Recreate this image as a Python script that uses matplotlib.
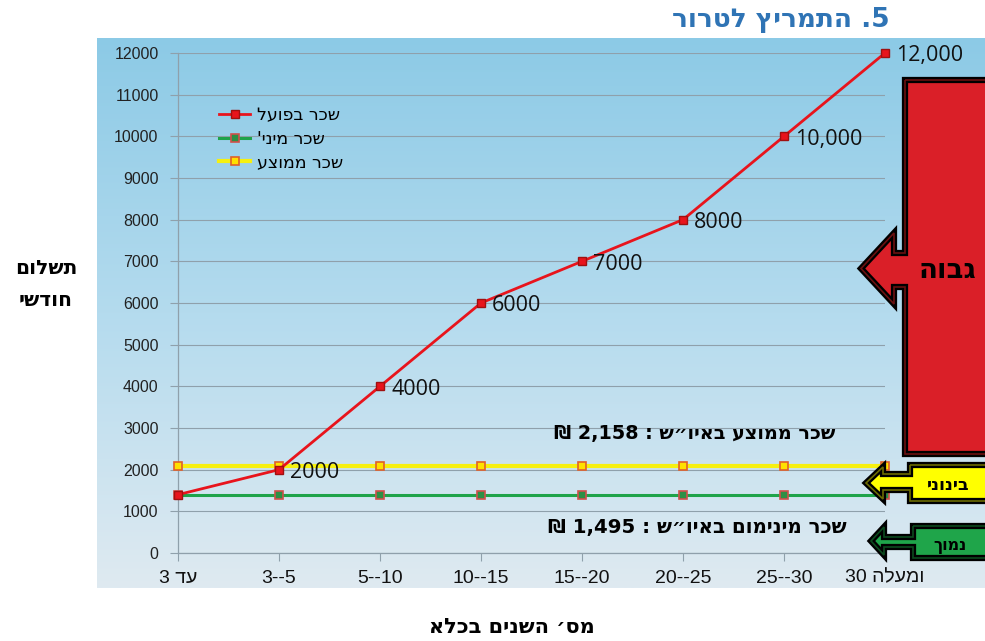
import re
import numpy as np
import matplotlib
matplotlib.use("Agg")
import matplotlib.pyplot as plt
from matplotlib.patches import Polygon
from matplotlib.colors import LinearSegmentedColormap

# ---------------- data ----------------
categories = ["עד 3", "3--5", "5--10", "10--15", "15--20", "20--25", "25--30", "30 ומעלה"]
actual_pay = [1400, 2000, 4000, 6000, 7000, 8000, 10000, 12000]
minimum_pay = [1400, 1400, 1400, 1400, 1400, 1400, 1400, 1400]
average_pay = [2100, 2100, 2100, 2100, 2100, 2100, 2100, 2100]
point_labels = ["", "2000", "4000", "6000", "7000", "8000", "10,000", "12,000"]
series_names = ["שכר בפועל", "שכר מיני'", "שכר ממוצע"]
y_ticks = [0, 1000, 2000, 3000, 4000, 5000, 6000, 7000, 8000, 9000, 10000, 11000, 12000]

title = "5. התמריץ לטרור"
y_label_lines = ["תשלום", "חודשי"]
x_label = "מס׳ השנים בכלא"
avg_note = "שכר ממוצע באיו״ש : 2,158 ₪"
min_note = "שכר מינימום באיו״ש : 1,495 ₪"
level_labels = ["גבוה", "בינוני", "נמוך"]


def rtl(s):
    """logical RTL Hebrew -> visual left-to-right order"""
    r = s[::-1]
    return re.sub(r"[0-9][0-9,.]*", lambda m: m.group(0)[::-1], r)


def disp(s):
    if s[:1].isdigit():
        return re.sub(r"[\u0590-\u05FF]+", lambda m: m.group(0)[::-1], s)
    return rtl(s)


W, H = 985, 641
fig = plt.figure(figsize=(W / 100, H / 100), dpi=100)
fig.patch.set_facecolor("white")

# gradient background panel
bg = fig.add_axes([97 / W, 1 - 588 / H, (W - 97) / W, (588 - 38) / H], zorder=0)
cmap = LinearSegmentedColormap.from_list("sky", ["#8ccae6", "#b4dbee", "#dfeaf1"])
bg.imshow(np.linspace(0, 1, 256).reshape(-1, 1), aspect="auto", cmap=cmap,
          extent=[0, 1, 0, 1])
bg.set_axis_off()

# main axes
ax = fig.add_axes([178 / W, 1 - 553 / H, (885 - 178) / W, (553 - 53) / H], zorder=2)
ax.set_facecolor("none")
x = np.arange(len(categories))

grid_c = "#8fa0ab"
ax.set_xlim(0, len(categories) - 1)
ax.set_ylim(0, 12000)
ax.set_yticks(y_ticks)
ax.set_yticklabels([str(v) for v in y_ticks], fontsize=11.5, family="Liberation Sans",
                   color="#222222")
ax.set_xticks(x)
ax.set_xticklabels([disp(c) for c in categories], fontsize=14, family="Liberation Sans",
                   color="#111111")
ax.yaxis.grid(True, color=grid_c, lw=0.8)
ax.set_axisbelow(True)
for s in ["top", "right"]:
    ax.spines[s].set_visible(False)
for s in ["left", "bottom"]:
    ax.spines[s].set_color(grid_c)
    ax.spines[s].set_linewidth(0.9)
ax.tick_params(axis="y", length=6, color=grid_c, pad=8)
ax.tick_params(axis="x", length=6, color=grid_c, pad=6)

l_avg, = ax.plot(x, average_pay, color="#f6f010", lw=3.0, marker="s", ms=6,
                 mfc="#ffe000", mec="#e0602a", mew=1.2, clip_on=False, zorder=3,
                 label=rtl(series_names[2]))
l_min, = ax.plot(x, minimum_pay, color="#1fa34a", lw=2.2, marker="s", ms=6,
                 mfc="#2d8f45", mec="#d0504a", mew=1.2, clip_on=False, zorder=3,
                 label=rtl(series_names[1]))
l_act, = ax.plot(x, actual_pay, color="#e8141c", lw=2.0, marker="s", ms=5.5,
                 mfc="#e8141c", mec="#a01010", mew=1.0, clip_on=False, zorder=4,
                 label=rtl(series_names[0]))

for xi, yi, lab in zip(x, actual_pay, point_labels):
    if lab:
        ax.annotate(lab, (xi, yi), xytext=(8, -2), textcoords="offset points",
                    ha="left", va="center", fontsize=15.5, family="Open Sans",
                    color="#111111", zorder=5, annotation_clip=False)

leg = ax.legend(handles=[l_act, l_min, l_avg], loc="upper left",
                bbox_to_anchor=(0.058, 0.893), frameon=False,
                handlelength=1.8, handletextpad=0.4, labelspacing=0.3,
                borderaxespad=0, borderpad=0,
                prop={"family": "DejaVu Sans", "size": 12.5})

# overlay in pixel coordinates for decorations
ov = fig.add_axes([0, 0, 1, 1], zorder=5)
ov.set_xlim(0, W)
ov.set_ylim(H, 0)
ov.set_axis_off()
ov.patch.set_alpha(0)


def callout(box_l, box_t, box_b, head_back, head_t, head_b, stem_t, stem_b, tip_x,
            fill, inner):
    tip_y = (head_t + head_b) / 2
    pts = [(box_l, box_t), (box_l, stem_t), (head_back, stem_t), (head_back, head_t),
           (tip_x, tip_y), (head_back, head_b), (head_back, stem_b), (box_l, stem_b),
           (box_l, box_b), (W + 20, box_b), (W + 20, box_t)]
    ov.add_patch(Polygon(pts, closed=True, fc=fill, ec="black", lw=4.5, joinstyle="miter"))
    ov.add_patch(Polygon(pts, closed=True, fc="none", ec=inner, lw=1.2, joinstyle="miter"))


callout(905, 80, 454, 894, 233, 304, 253, 287, 861, "#da1f28", "#6a1010")
callout(910, 465, 501, 883, 467, 499, 474, 490, 866, "#ffff00", "#6b6b00")
callout(913, 526, 558, 884, 527, 555, 537, 547, 871, "#1fa54a", "#0b4a1e")

hb = dict(family="DejaVu Sans", weight="bold", color="black")
ov.text(947, 270, rtl(level_labels[0]), ha="center", va="center", fontsize=20, **hb)
ov.text(948, 485, rtl(level_labels[1]), ha="center", va="center", fontsize=12.5, **hb)
ov.text(950, 546, rtl(level_labels[2]), ha="center", va="center", fontsize=11.5, **hb)

ov.text(890, 20, rtl(title), ha="right", va="center", fontsize=19,
        family="DejaVu Sans", weight="bold", color="#2f74b5")
ov.text(46, 268, rtl(y_label_lines[0]), ha="center", va="center", fontsize=14.5, **hb)
ov.text(46, 300, rtl(y_label_lines[1]), ha="center", va="center", fontsize=14.5, **hb)
ov.text(512, 627, rtl(x_label), ha="center", va="center", fontsize=15, **hb)
ov.text(695, 434, rtl(avg_note), ha="center", va="center", fontsize=13.8, **hb)
ov.text(697, 527, rtl(min_note), ha="center", va="center", fontsize=14.2, **hb)

fig.savefig("out.png", dpi=100)
